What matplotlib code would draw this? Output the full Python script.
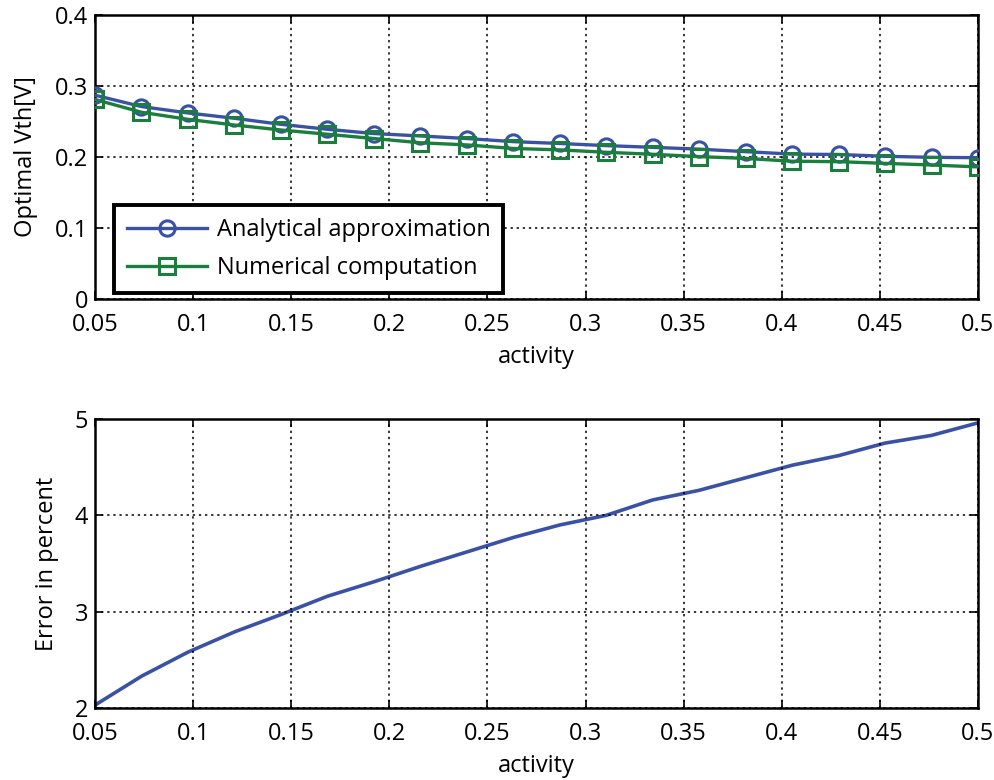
import numpy as np
import matplotlib
matplotlib.use("Agg")
import matplotlib.pyplot as plt

activity = np.linspace(0.05, 0.5, 20)
analytical = [0.287, 0.271, 0.262, 0.2545, 0.246, 0.239, 0.233, 0.2296, 0.226, 0.2216,
              0.219, 0.216, 0.2136, 0.211, 0.2075, 0.204, 0.2035, 0.201, 0.1995, 0.199]
numerical = [0.281, 0.263, 0.253, 0.245, 0.238, 0.232, 0.226, 0.220, 0.217, 0.212,
             0.210, 0.2066, 0.2038, 0.2005, 0.198, 0.194, 0.1934, 0.191, 0.1887, 0.186]
error_pct = [2.03, 2.33, 2.58, 2.79, 2.97, 3.16, 3.31, 3.47, 3.62, 3.77,
             3.90, 4.00, 4.16, 4.26, 4.39, 4.52, 4.62, 4.75, 4.83, 4.96]

xticks = [0.05, 0.1, 0.15, 0.2, 0.25, 0.3, 0.35, 0.4, 0.45, 0.5]
xticklabels = ["0.05", "0.1", "0.15", "0.2", "0.25", "0.3", "0.35", "0.4", "0.45", "0.5"]
yticks_top = [0, 0.1, 0.2, 0.3, 0.4]
yticklabels_top = ["0", "0.1", "0.2", "0.3", "0.4"]
yticks_bot = [2, 3, 4, 5]

plt.rcParams['font.family'] = ['Open Sans', 'DejaVu Sans']
FS = 17

BLUE = '#3A52A5'
GREEN = '#1A7E3C'

fig = plt.figure(figsize=(9.95, 7.8), dpi=100)
ax1 = fig.add_axes([0.0955, 0.6167, 0.8874, 0.3641])
ax2 = fig.add_axes([0.0955, 0.0923, 0.8874, 0.3705])

def style(ax):
    for s in ax.spines.values():
        s.set_linewidth(1.8)
    ax.tick_params(direction='in', top=True, right=True, length=6, width=1.2,
                   labelsize=FS)
    ax.tick_params(axis='x', pad=10)
    ax.tick_params(axis='y', pad=5)
    ax.grid(True, linestyle=(0, (1.5, 2.5)), color='black', linewidth=1.1)
    ax.set_axisbelow(False)
    ax.set_xlim(0.05, 0.5)
    ax.set_xticks(xticks)
    ax.set_xticklabels(xticklabels)

ax1.plot(activity, analytical, color=BLUE, lw=2.4, marker='o', ms=11,
         mfc='none', mew=2.2, label='Analytical approximation', zorder=3)
ax1.plot(activity, numerical, color=GREEN, lw=2.4, marker='s', ms=11,
         mfc='none', mew=2.2, label='Numerical computation', zorder=3)
style(ax1)
ax1.set_ylim(0, 0.4)
ax1.set_yticks(yticks_top)
ax1.set_yticklabels(yticklabels_top)
ax1.set_xlabel('activity', fontsize=FS, labelpad=6)
ax1.set_ylabel('Optimal Vth[V]', fontsize=FS, labelpad=12)
leg = ax1.legend(loc='lower left', bbox_to_anchor=(0.0215, 0.021), fontsize=FS,
                 fancybox=False, framealpha=1, edgecolor='black',
                 handlelength=3.4, borderpad=0.55, labelspacing=0.6,
                 handletextpad=0.4, borderaxespad=0.0)
leg.get_frame().set_linewidth(2.8)

ax2.plot(activity, error_pct, color=BLUE, lw=2.6)
style(ax2)
ax2.set_ylim(2, 5)
ax2.set_yticks(yticks_bot)
ax2.set_xlabel('activity', fontsize=FS, labelpad=6)
ax2.set_ylabel('Error in percent', fontsize=FS, labelpad=11)

fig.savefig('out.png', dpi=100)
